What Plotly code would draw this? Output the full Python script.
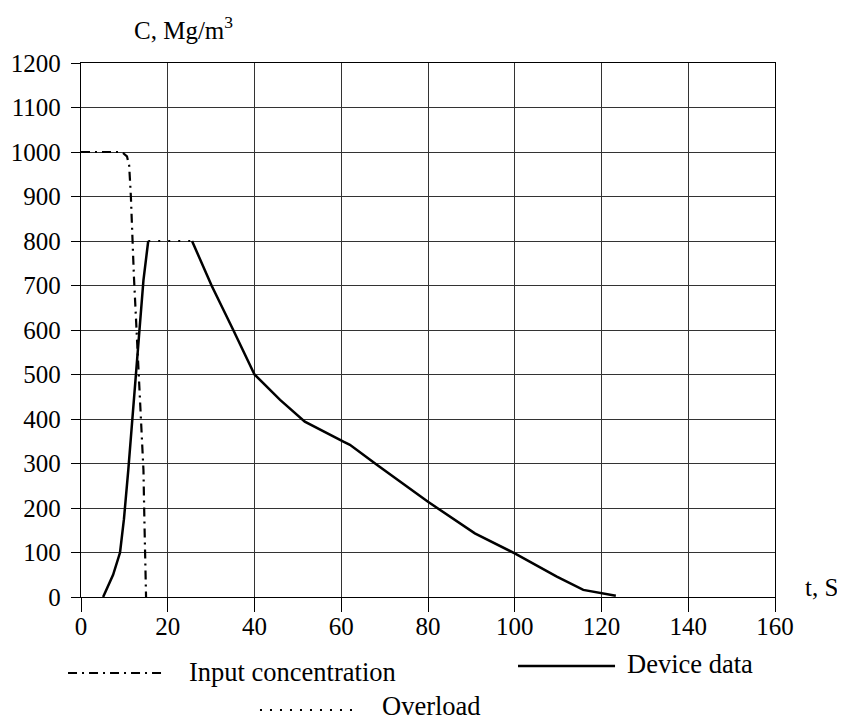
import plotly.graph_objects as go

# Input concentration (dash-dot)
input_t = [0, 9.0, 9.8, 10.6, 11.1, 11.5, 12.2, 13.3, 14.4, 14.6, 15.0]
input_c = [1000, 1000, 997, 990, 970, 900, 720, 500, 285, 180, 0]

# Device data (solid) - rising part and falling part
device_rise_t = [5.1, 7.4, 9.0, 9.9, 10.9, 12.5, 14.4, 15.5]
device_rise_c = [0, 50, 100, 175, 285, 490, 712, 800]
device_fall_t = [25.6, 30.1, 35.1, 40.0, 45.9, 51.6, 60.5, 62.0, 68.2, 75.1,
                 80.0, 90.8, 100.0, 109.7, 115.8, 123.3]
device_fall_c = [800, 700, 600, 500, 443, 394, 349, 342, 297, 248,
                 214, 143, 98, 46, 16, 3]

# Overload (dotted)
overload_t = [15.5, 25.6]
overload_c = [800, 800]

x_ticks = [0, 20, 40, 60, 80, 100, 120, 140, 160]
y_ticks = list(range(0, 1300, 100))

legend_labels = ["Input concentration", "Device data", "Overload"]

FONT = "Liberation Serif, Times New Roman, serif"
DASHDOT = "9px,5px,2px,5px"
DOT = "2px,8px"

fig = go.Figure()
fig.add_trace(go.Scatter(x=input_t, y=input_c, mode="lines",
                         line=dict(color="black", width=2.2, dash=DASHDOT),
                         name=legend_labels[0]))
fig.add_trace(go.Scatter(x=device_rise_t + [None] + device_fall_t,
                         y=device_rise_c + [None] + device_fall_c,
                         mode="lines", line=dict(color="black", width=2.5),
                         connectgaps=False, name=legend_labels[1]))
fig.add_trace(go.Scatter(x=overload_t, y=overload_c, mode="lines",
                         line=dict(color="black", width=2.2, dash=DOT),
                         name=legend_labels[2]))

fig.update_layout(
    width=837, height=714,
    margin=dict(l=73, r=70, t=55, b=125, autoexpand=False),
    paper_bgcolor="white", plot_bgcolor="white",
    showlegend=False,
    font=dict(family=FONT, size=25, color="black"),
    xaxis=dict(range=[0, 160], tickvals=x_ticks, showgrid=True,
               automargin=False,
               gridcolor="#333", gridwidth=1.2, zeroline=False,
               showline=True, linecolor="black", linewidth=1.3, mirror=True,
               ticks="outside", ticklen=14, tickcolor="black", tickwidth=1.3,
               ticklabelstandoff=-7,
               tickfont=dict(family=FONT, size=25, color="black")),
    yaxis=dict(range=[0, 1200], tickvals=y_ticks, showgrid=True,
               automargin=False,
               gridcolor="#333", gridwidth=1.2, zeroline=False,
               showline=True, linecolor="black", linewidth=1.3, mirror=True,
               ticks="outside", ticklen=9, tickcolor="black", tickwidth=1.3,
               ticklabelstandoff=5,
               tickfont=dict(family=FONT, size=25, color="black")),
)

# axis titles
fig.add_annotation(xref="paper", yref="paper", x=0.0735, y=1.066,
                   xanchor="left", yanchor="middle", showarrow=False,
                   text="C, Mg/m<sup>3</sup>", font=dict(family=FONT, size=25))
fig.add_annotation(xref="paper", yref="paper", x=1.0405, y=0.017,
                   xanchor="left", yanchor="middle", showarrow=False,
                   text="t, S", font=dict(family=FONT, size=25))

# legend samples
legend_items = [
    (legend_labels[0], -0.0187, 0.121, -0.1423, 0.1527, -0.1404, DASHDOT, 2.2),
    (legend_labels[1], 0.6297, 0.7695, -0.1292, 0.7839, -0.1255, "solid", 2.5),
    (legend_labels[2], 0.2579, 0.3991, -0.2116, 0.4308, -0.2041, DOT, 2.2),
]
for label, x0, x1, ly, tx, ty, dash, w in legend_items:
    fig.add_shape(type="line", xref="paper", yref="paper",
                  x0=x0, x1=x1, y0=ly, y1=ly,
                  line=dict(color="black", width=w, dash=dash))
    fig.add_annotation(xref="paper", yref="paper", x=tx, y=ty,
                       xanchor="left", yanchor="middle", showarrow=False,
                       text=label, font=dict(family=FONT, size=26.5))

fig.write_html("out.html")
